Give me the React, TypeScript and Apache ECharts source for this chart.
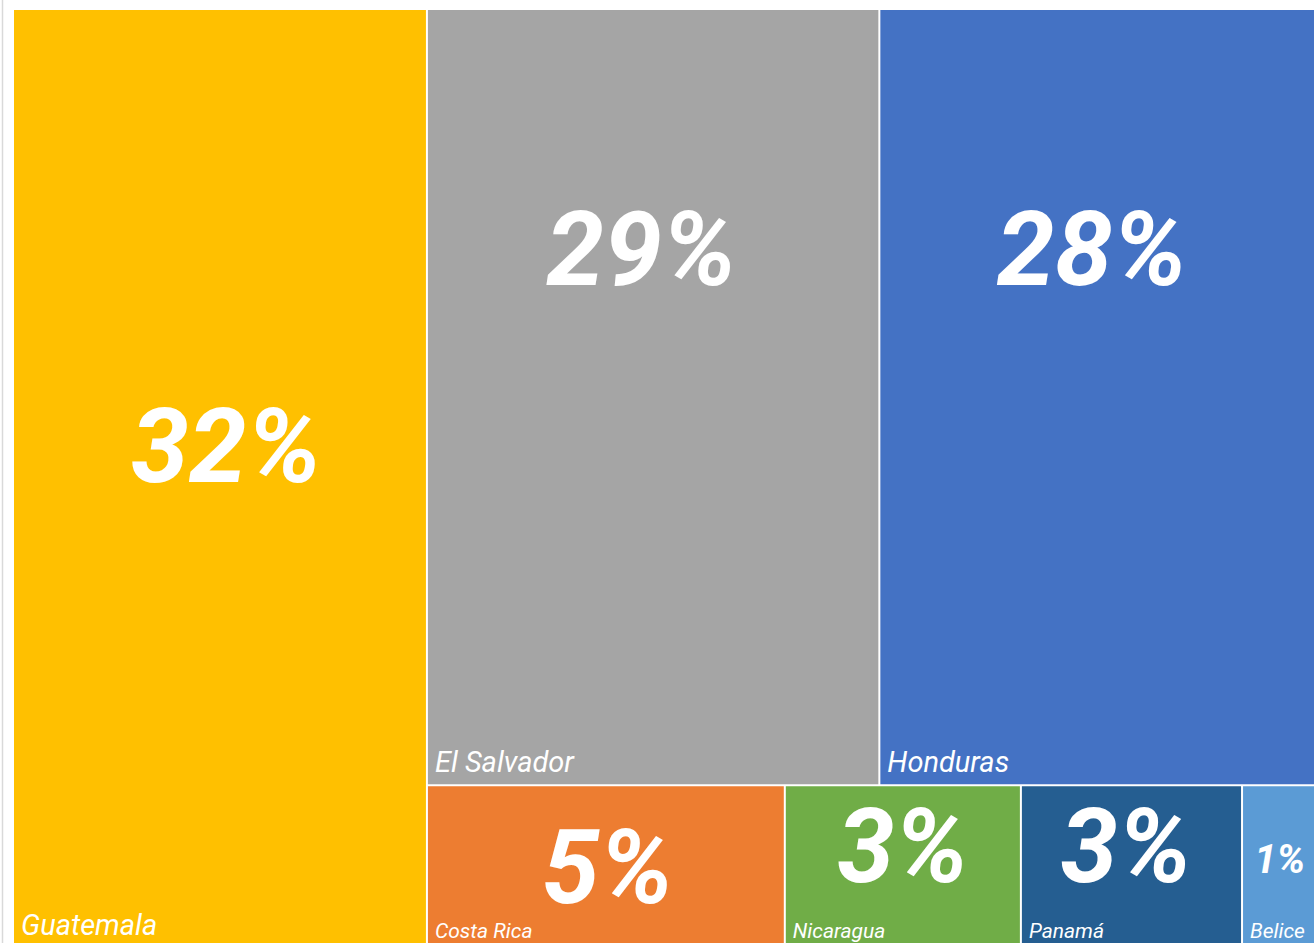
import React, { useEffect, useRef } from "react";
import * as echarts from "echarts";

// ---- data ----
const countries = ["Guatemala", "El Salvador", "Honduras", "Costa Rica", "Nicaragua", "Panamá", "Belice"];
const shares = [31.8, 28.7, 27.7, 4.79, 3.16, 2.96, 0.99];
// grouping of the treemap (indices into countries)
const firstColumn = [0];
const upperRow = [1, 2];
const lowerRow = [3, 4, 5, 6];

// ---- styles ----
const palette = ["#FFC000", "#A5A5A5", "#4472C4", "#ED7D31", "#70AD47", "#255E91", "#5B9BD5"];
const pctFontSize = [104, 104, 104, 103, 103, 103, 40];
const pctAnchor: [string, string][] = [
  ["51.5%", "46.5%"],
  ["47.4%", "30.9%"],
  ["48.7%", "30.9%"],
  ["50.5%", "50.5%"],
  ["50%", "37%"],
  ["47.5%", "37%"],
  ["51%", "45%"],
];
const nameFontSize = [29, 29, 29, 21, 21, 21, 21];
const nameOffset: [number, number][] = [[0, -2], [0, -1], [0, -1], [0, 0], [0, 0], [0, 0], [0, 0]];
const FONT = "Roboto, 'Noto Sans', sans-serif";

const total = shares.reduce((a, b) => a + b, 0);

function buildTree(makeLeaf: (i: number) => any) {
  return [
    ...firstColumn.map(makeLeaf),
    {
      name: "rest",
      children: [
        { name: "upper", children: upperRow.map(makeLeaf) },
        { name: "lower", children: lowerRow.map(makeLeaf) },
      ],
    },
  ];
}

const nameLeaf = (i: number) => ({
  name: countries[i],
  value: shares[i],
  itemStyle: { color: palette[i], borderColor: "#ffffff", borderWidth: 1 },
  label: {
    show: true,
    position: "insideBottomLeft",
    distance: 7,
    offset: nameOffset[i],
    padding: 0,
    color: "#ffffff",
    fontSize: nameFontSize[i],
    fontStyle: "italic",
    fontWeight: "normal",
    fontFamily: FONT,
    formatter: "{b}",
  },
});

const pctLeaf = (i: number) => ({
  name: countries[i],
  value: shares[i],
  itemStyle: { color: "rgba(0,0,0,0)", borderColor: "rgba(0,0,0,0)", borderWidth: 1 },
  label: {
    show: true,
    position: pctAnchor[i],
    align: "center",
    verticalAlign: "middle",
    padding: 0,
    color: "#ffffff",
    fontSize: pctFontSize[i],
    fontStyle: "italic",
    fontWeight: "bold",
    fontFamily: FONT,
    formatter: () => Math.round((shares[i] / total) * 100) + "%",
  },
});

const commonSeries = {
  type: "treemap",
  left: 13,
  top: 9,
  width: 1303,
  height: 940,
  squareRatio: 1,
  sort: false,
  roam: false,
  nodeClick: false,
  silent: true,
  visibleMin: 0,
  breadcrumb: { show: false },
  upperLabel: { show: false },
};

export default function App() {
  const ref = useRef<HTMLDivElement>(null);
  useEffect(() => {
    if (!ref.current) return;
    const chart = echarts.init(ref.current, null, { renderer: "svg" });
    chart.setOption({
      animation: false,
      backgroundColor: "#ffffff",
      graphic: [
        {
          type: "line",
          silent: true,
          shape: { x1: 2.5, y1: 0, x2: 2.5, y2: 943 },
          style: { stroke: "#d9d9d9", lineWidth: 1.5 },
        },
      ],
      series: [
        {
          ...commonSeries,
          z: 2,
          itemStyle: { borderWidth: 0, gapWidth: 0, borderColor: "#ffffff" },
          data: buildTree(nameLeaf),
        },
        {
          ...commonSeries,
          z: 3,
          itemStyle: { borderWidth: 0, gapWidth: 0, borderColor: "rgba(0,0,0,0)", color: "rgba(0,0,0,0)" },
          data: buildTree(pctLeaf),
        },
      ],
    });
    return () => chart.dispose();
  }, []);
  return (
    <div
      ref={ref}
      style={{ position: "absolute", left: 0, top: 0, width: 1314, height: 943, overflow: "hidden" }}
    />
  );
}
